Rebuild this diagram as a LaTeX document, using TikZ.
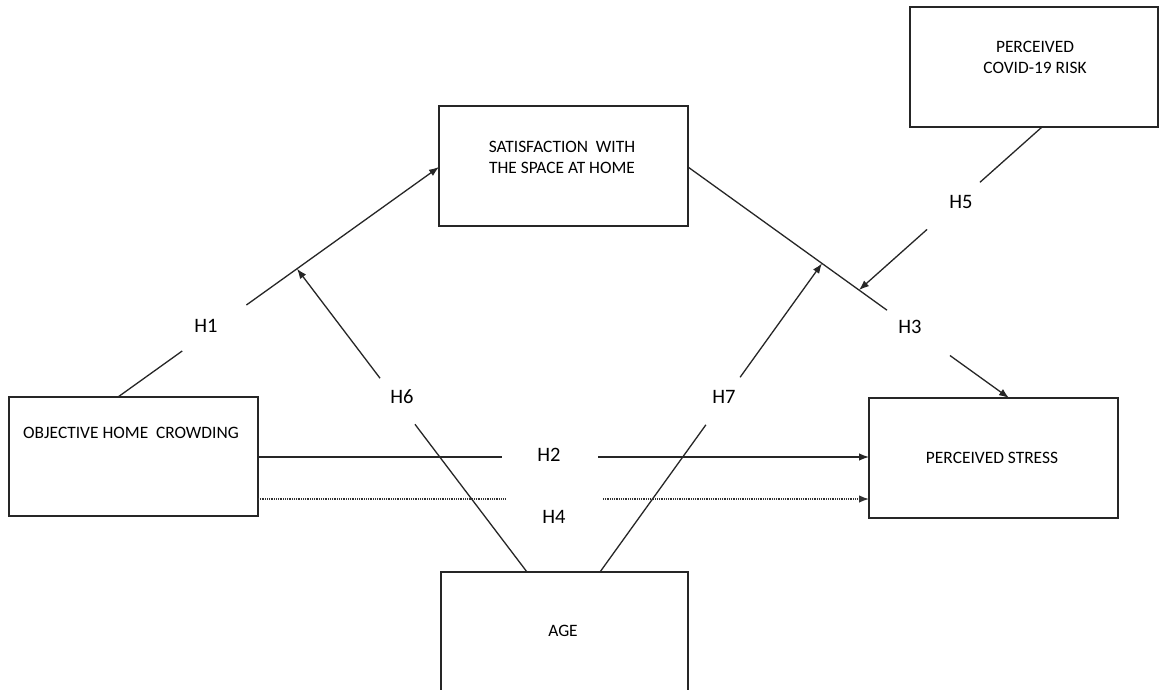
\documentclass[tikz,border=0pt]{standalone}
\usepackage{fontspec}
\setmainfont{Carlito}
\usetikzlibrary{arrows.meta,calc}
\begin{document}
\begin{tikzpicture}[x=1pt,y=-1pt,
  box/.style={draw=black!85,line width=1.4pt,rectangle,inner sep=0pt,outer sep=0pt,minimum height=120pt},
  txt/.style={font=\fontsize{17.4}{21}\selectfont,align=center,text=black,inner sep=0pt},
  hlab/.style={font=\fontsize{20.5}{24}\selectfont,text=black,inner sep=0pt},
  ln/.style={draw=black!85,line width=1.3pt},
  arr/.style={ln,-{Latex[length=10pt,width=7.5pt]}},
  dotln/.style={draw=black!80,line width=1.4pt,dash pattern=on 1pt off 0.8pt}]
\useasboundingbox (0,0) rectangle (1161,690);
\fill[white] (0,0) rectangle (1161,690);

% boxes
\node[box,minimum width=249pt,minimum height=119pt] (ohc) at (133.5,456.5) {};
\node[box,minimum width=249pt] (sat) at (563.5,166) {};
\node[box,minimum width=248pt] (cov) at (1034,67) {};
\node[box,minimum width=249pt] (ps) at (993.5,458) {};
\node[box,minimum width=247pt] (age) at (564.5,632) {};

% box texts
\node[txt] (ohcT) at (131,433) {OBJECTIVE HOME\hspace{0.45em}CROWDING};
\node[txt] (satT) at (562,157) {SATISFACTION\hspace{0.45em}WITH\\THE SPACE AT HOME};
\node[txt] (covT) at (1035,57) {PERCEIVED\\COVID-19 RISK};
\node[txt] (psT) at (992,458) {PERCEIVED STRESS};
\node[txt] (ageT) at (563,631) {AGE};

% anchor points
\coordinate (h1a) at ($(ohc.north west)+(109,0)$);
\coordinate (h1b) at ($(sat.north west)+(0,61)$);
\coordinate (h3a) at ($(sat.north east)+(0,61)$);
\coordinate (h3b) at ($(ps.north west)+(140,0)$);
\coordinate (h6a) at ($(age.north west)+(86,0)$);
\coordinate (h6b) at ($(h1a)!0.5576!(h1b)$);
\coordinate (h7a) at ($(age.north west)+(159,0)$);
\coordinate (h7b) at ($(h3a)!0.4174!(h3b)$);
\coordinate (h5a) at ($(cov.south west)+(132,0)$);
\coordinate (h5b) at ($(h3a)!0.5327!(h3b)$);
\coordinate (h2a) at ($(ohc.north east)+(0,60)$);
\coordinate (h2b) at ($(ps.north west)+(0,59)$);
\coordinate (h4a) at ($(ohc.north east)+(0,102)$);
\coordinate (h4b) at ($(ps.north west)+(0,101)$);

% H1
\draw[ln] (h1a) -- ($(h1a)!0.20!(h1b)$);
\draw[arr] ($(h1a)!0.40!(h1b)$) -- (h1b);
\node[hlab] (H1) at (206,326) {H1};
% H3
\draw[ln] (h3a) -- ($(h3a)!0.62!(h3b)$);
\draw[arr] ($(h3a)!0.816!(h3b)$) -- (h3b);
\node[hlab] (H3) at (910,327) {H3};
% H6
\draw[ln] (h6a) -- ($(h6a)!0.487!(h6b)$);
\draw[arr] ($(h6a)!0.639!(h6b)$) -- (h6b);
\node[hlab] (H6) at (402,397) {H6};
% H7
\draw[ln] (h7a) -- ($(h7a)!0.477!(h7b)$);
\draw[arr] ($(h7a)!0.631!(h7b)$) -- (h7b);
\node[hlab] (H7) at (724,397) {H7};
% H5
\draw[ln] (h5a) -- ($(h5a)!0.339!(h5b)$);
\draw[arr] ($(h5a)!0.628!(h5b)$) -- (h5b);
\node[hlab] (H5) at (961,202) {H5};
% H2
\draw[ln] (h2a) -- ($(h2a)!0.3993!(h2b)$);
\draw[arr] ($(h2a)!0.5565!(h2b)$) -- (h2b);
\node[hlab] (H2) at (549,455) {H2};
% H4
\draw[dotln] (h4a) -- ($(h4a)!0.404!(h4b)$);
\draw[dotln,-{Latex[length=10pt,width=7.5pt]}] ($(h4a)!0.5646!(h4b)$) -- (h4b);
\node[hlab] (H4) at (554,517) {H4};
\end{tikzpicture}
\end{document}
